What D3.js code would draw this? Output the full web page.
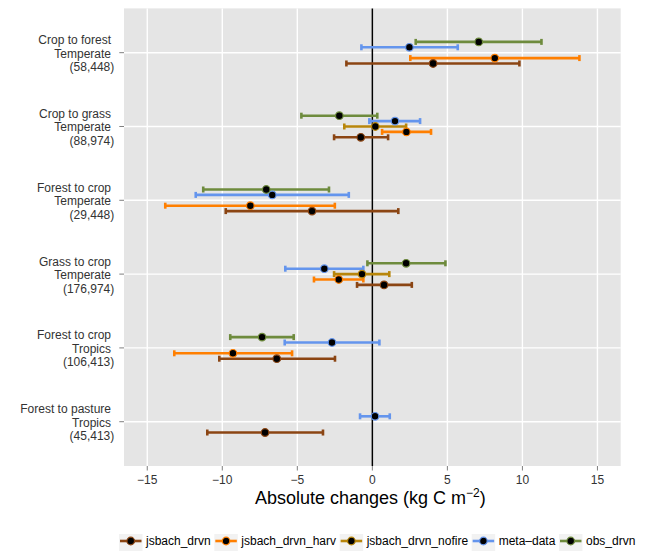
<!DOCTYPE html>
<html>
<head>
<meta charset="utf-8">
<script src="https://cdn.jsdelivr.net/npm/d3@7"></script>
<style>
  body { margin: 0; background: #fff; }
  text { font-family: "Liberation Sans", Arial, sans-serif; }
</style>
</head>
<body>
<script>
// categories (top to bottom) and their multi-line labels
let categories = ["cf", "cg", "fc", "gc", "fct", "fpt"];
let labelLines = [
  ["Crop to forest", "Temperate", "(58,448)"],
  ["Crop to grass", "Temperate", "(88,974)"],
  ["Forest to crop", "Temperate", "(29,448)"],
  ["Grass to crop", "Temperate", "(176,974)"],
  ["Forest to crop", "Tropics", "(106,413)"],
  ["Forest to pasture", "Tropics", "(45,413)"]
];

let seriesNames = ["jsbach_drvn", "jsbach_drvn_harv", "jsbach_drvn_nofire", "meta\u2013data", "obs_drvn"];
let seriesColors = ["#8B4513", "#FF7F00", "#B8860B", "#6495ED", "#6E8B3D"];

// [low, mean, high] per category, null = missing
let jsbach_drvn = [[-1.73, 4.05, 9.8], [-2.55, -0.77, 1.05], [-9.77, -4.02, 1.73], [-1.02, 0.78, 2.63], [-10.2, -6.37, -2.49], [-11.0, -7.15, -3.29]];
let jsbach_drvn_harv = [[2.53, 8.16, 13.8], [0.65, 2.27, 3.91], [-13.8, -8.13, -2.5], [-3.89, -2.24, -0.6], [-13.2, -9.29, -5.35], null];
let jsbach_drvn_nofire = [null, [-1.87, 0.2, 2.25], null, [-2.55, -0.69, 1.13], null, null];
let meta_data = [[-0.73, 2.47, 5.69], [-0.2, 1.51, 3.18], [-11.77, -6.67, -1.57], [-5.8, -3.2, -0.6], [-5.84, -2.69, 0.47], [-0.82, 0.18, 1.16]];
let obs_drvn = [[2.89, 7.09, 11.27], [-4.73, -2.2, 0.33], [-11.27, -7.07, -2.89], [-0.33, 2.25, 4.87], [-9.47, -7.35, -5.24], null];

let xTicks = [-15, -10, -5, 0, 5, 10, 15];

let width = 647, height = 551;
let pLeft = 124, pRight = 620.7, pTop = 8.4, pBottom = 466;

let svg = d3.select("body").append("svg")
  .attr("width", width)
  .attr("height", height);

let x = d3.scaleLinear().domain([-16.55, 16.55]).range([pLeft, pRight]);
let y = d3.scalePoint().domain(categories).range([pTop, pBottom]).padding(0.6);
let dodge = d3.scalePoint().domain(seriesNames).range([10.8, -10.8]);
let color = d3.scaleOrdinal().domain(seriesNames).range(seriesColors);

// panel
svg.append("rect")
  .attr("x", pLeft).attr("y", pTop)
  .attr("width", pRight - pLeft).attr("height", pBottom - pTop)
  .attr("fill", "#E5E5E5");

// grid
svg.selectAll(".vgrid").data(xTicks).enter().append("line")
  .attr("x1", d => x(d)).attr("x2", d => x(d))
  .attr("y1", pTop).attr("y2", pBottom)
  .attr("stroke", "#fff").attr("stroke-width", 1.4);
svg.selectAll(".hgrid").data(categories).enter().append("line")
  .attr("x1", pLeft).attr("x2", pRight)
  .attr("y1", d => y(d)).attr("y2", d => y(d))
  .attr("stroke", "#fff").attr("stroke-width", 1.4);

// zero line
svg.append("line")
  .attr("x1", x(0)).attr("x2", x(0))
  .attr("y1", pTop).attr("y2", pBottom)
  .attr("stroke", "#000").attr("stroke-width", 1.5);

// flatten data
let allSeries = [jsbach_drvn, jsbach_drvn_harv, jsbach_drvn_nofire, meta_data, obs_drvn];
let rows = [];
allSeries.forEach((s, si) => {
  s.forEach((v, ci) => {
    if (v) rows.push({ series: seriesNames[si], cat: categories[ci], lo: v[0], mid: v[1], hi: v[2] });
  });
});
let yy = d => y(d.cat) + dodge(d.series);

// error bars
let eb = svg.append("g").selectAll("g").data(rows).enter().append("g")
  .attr("stroke", d => color(d.series))
  .attr("stroke-width", 2.6);
eb.append("line")
  .attr("x1", d => x(d.lo)).attr("x2", d => x(d.hi))
  .attr("y1", yy).attr("y2", yy);
eb.append("line")
  .attr("x1", d => x(d.lo)).attr("x2", d => x(d.lo))
  .attr("y1", d => yy(d) - 3).attr("y2", d => yy(d) + 3);
eb.append("line")
  .attr("x1", d => x(d.hi)).attr("x2", d => x(d.hi))
  .attr("y1", d => yy(d) - 3).attr("y2", d => yy(d) + 3);

// points
svg.append("g").selectAll("circle").data(rows).enter().append("circle")
  .attr("cx", d => x(d.mid)).attr("cy", yy)
  .attr("r", 3.8)
  .attr("fill", "#000")
  .attr("stroke", d => color(d.series))
  .attr("stroke-width", 1.2);

// x axis ticks and labels
svg.selectAll(".xt").data(xTicks).enter().append("line")
  .attr("x1", d => x(d)).attr("x2", d => x(d))
  .attr("y1", pBottom).attr("y2", pBottom + 4.5)
  .attr("stroke", "#7F7F7F").attr("stroke-width", 1);
svg.selectAll(".xl").data(xTicks).enter().append("text")
  .attr("x", d => x(d)).attr("y", 483.5)
  .attr("text-anchor", "middle")
  .attr("font-size", 12)
  .attr("fill", "#333")
  .text(d => d < 0 ? "\u2212" + Math.abs(d) : d);

// x axis title
let title = svg.append("text")
  .attr("x", 255).attr("y", 504.3)
  .attr("font-size", 18)
  .attr("fill", "#000");
title.append("tspan").text("Absolute changes (kg C m");
title.append("tspan").attr("font-size", 12).attr("dy", -7.5).text("\u22122");
title.append("tspan").attr("dy", 7.5).text(")");

// y axis ticks and labels (one text per category, lines as tspans)
svg.selectAll(".yt").data(categories).enter().append("line")
  .attr("x1", pLeft - 4.7).attr("x2", pLeft)
  .attr("y1", d => y(d)).attr("y2", d => y(d))
  .attr("stroke", "#7F7F7F").attr("stroke-width", 1);
categories.forEach((c, i) => {
  let t = svg.append("text")
    .attr("text-anchor", "end")
    .attr("font-size", 12)
    .attr("fill", "#333");
  labelLines[i].forEach((line, k) => {
    t.append("tspan")
      .attr("x", k < 2 ? 111 : 114.3)
      .attr("y", y(c) + 0.7 + (k - 1) * 13.5 + 4.2)
      .text(line);
  });
});

// legend
let lx = 119, ly = 542.5;
seriesNames.forEach((s, i) => {
  let g = svg.append("g").attr("transform", "translate(" + lx + "," + ly + ")");
  g.append("rect")
    .attr("x", 0).attr("y", -8.5).attr("width", 23.5).attr("height", 17)
    .attr("fill", "#F2F2F2");
  g.append("line")
    .attr("x1", 1).attr("x2", 22.5).attr("y1", -1.5).attr("y2", -1.5)
    .attr("stroke", color(s)).attr("stroke-width", 2.6);
  g.append("circle")
    .attr("cx", 11.75).attr("cy", -1.5).attr("r", 3.8)
    .attr("fill", "#000").attr("stroke", color(s)).attr("stroke-width", 1.2);
  let t = g.append("text")
    .attr("x", 27).attr("y", 2.5)
    .attr("font-size", 12)
    .attr("fill", "#000")
    .text(s);
  lx += 27 + t.node().getComputedTextLength() + 3.6;
});
</script>
</body>
</html>
